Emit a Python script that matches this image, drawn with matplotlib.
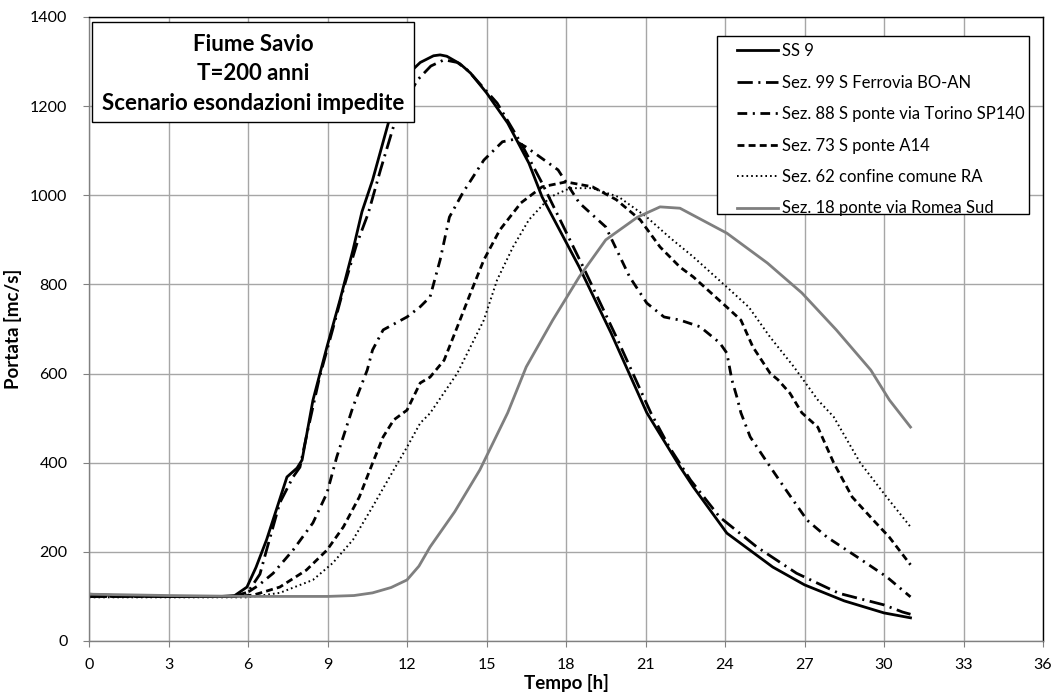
import matplotlib
matplotlib.use("Agg")
import matplotlib.pyplot as plt
from matplotlib.patches import Rectangle

plt.rcParams['font.family'] = ['Lato', 'DejaVu Sans']
plt.rcParams['lines.scale_dashes'] = False

# Idrogrammi di piena - Fiume Savio, T=200 anni
t_ss9 = [0, 1, 2, 3, 4, 5, 5.5, 5.96, 6.3, 6.7, 7.1, 7.47, 7.85, 8.04, 8.45, 8.98, 9.47, 9.96,
         10.3, 10.7, 11.36, 11.75, 12.2, 12.5, 13.0, 13.25, 13.5, 14.0, 14.4, 15.0, 15.8, 16.6,
         17.1, 18.5, 19.7, 21.05, 22.3, 22.8, 24.07, 25.8, 27.0, 28.5, 30.0, 31.0]
q_ss9 = [105, 102, 101, 100, 100, 100, 102, 121, 165, 227, 300, 368, 388, 406, 540, 660, 765, 877,
         963, 1034, 1176, 1232, 1281, 1298, 1313, 1315, 1312, 1295, 1274, 1230, 1162, 1072,
         996, 839, 691, 512, 391, 346, 242, 166, 126, 90, 63, 52]

t_ferrovia = [0, 3, 5.5, 6.0, 6.45, 6.7, 7.2, 7.7, 7.96, 8.2, 8.7, 9.2, 9.65, 10.1, 10.54, 11.0,
              11.6, 12.4, 12.9, 13.4, 13.9, 14.3, 15.4, 16.3, 17.1, 18.65, 19.9, 21.2, 21.9,
              22.7, 23.8, 25.2, 26.7, 28.3, 30.0, 30.7, 31.0]
q_ferrovia = [100, 100, 100, 110, 150, 204, 310, 368, 390, 458, 592, 700, 800, 890, 960, 1057,
              1176, 1259, 1290, 1304, 1298, 1280, 1207, 1117, 1027, 839, 682, 512, 435,
              361, 278, 211, 152, 107, 81, 65, 60]

t_torino = [0, 3, 5.5, 5.96, 6.4, 6.95, 7.7, 8.45, 8.98, 9.35, 9.96, 10.5, 10.7, 11.1, 12.0,
            12.5, 12.87, 13.25, 13.6, 14.1, 14.9, 15.6, 16.0, 16.5, 17.7, 18.5, 19.5, 20.4,
            21.05, 21.7, 22.3, 23.06, 23.8, 24.07, 24.26, 24.45, 24.6, 24.95, 25.6, 26.3,
            27.1, 27.85, 29.0, 30.1, 31.0]
q_torino = [100, 100, 100, 108, 125, 152, 204, 265, 332, 413, 525, 608, 653, 698, 727,
            750, 772, 855, 951, 1005, 1079, 1120, 1125, 1108, 1057, 983, 929, 817,
            758, 727, 720, 705, 669, 646, 586, 547, 512, 458, 400, 339,
            271, 233, 188, 144, 99]

t_a14 = [0, 3, 5.5, 6.2, 7.2, 8.2, 8.98, 9.6, 10.2, 10.7, 11.1, 11.5, 12.0, 12.5, 12.87, 13.4,
         13.9, 14.4, 14.9, 15.5, 16.3, 17.1, 18.0, 19.0, 19.9, 20.8, 21.55, 22.3, 22.8, 24.07,
         24.6, 25.05, 25.7, 26.0, 26.45, 26.9, 27.5, 28.1, 28.8, 29.6, 30.2, 31.0]
q_a14 = [100, 100, 100, 103, 121, 159, 204, 256, 323, 399, 458, 496, 518, 579, 592, 630,
         705, 781, 855, 922, 983, 1019, 1030, 1019, 990, 945, 884, 839, 817, 749,
         720, 660, 601, 586, 556, 512, 480, 400, 323, 271, 233, 171]

t_ra = [0, 3, 6, 7.2, 8.45, 9.2, 9.96, 10.7, 11.5, 12.0, 12.5, 12.87, 13.9, 14.9, 15.4, 16.0,
        16.6, 17.4, 18.15, 19.0, 20.0, 21.05, 21.9, 22.8, 24.07, 24.9, 25.7, 26.6, 27.5,
        28.1, 29.1, 30.1, 31.0]
q_ra = [98, 98, 98, 108, 137, 175, 227, 301, 384, 435, 489, 511, 601, 720, 810, 884,
        945, 996, 1016, 1016, 996, 951, 906, 862, 794, 749, 682, 615, 541,
        503, 400, 323, 256]

t_romea = [0, 3, 6, 9, 10.0, 10.7, 11.4, 12.0, 12.45, 12.87, 13.8, 14.75, 15.8, 16.5, 17.5,
           18.5, 19.5, 20.7, 21.55, 22.3, 24.07, 25.6, 26.9, 28.2, 29.5, 30.2, 31.0]
q_romea = [105, 102, 100, 100, 102, 108, 120, 137, 168, 211, 290, 384, 512, 615, 720,
           817, 900, 951, 974, 971, 915, 848, 781, 698, 608, 541, 480]

labels = ["SS 9",
          "Sez. 99 S Ferrovia BO-AN",
          "Sez. 88 S ponte via Torino SP140",
          "Sez. 73 S ponte A14",
          "Sez. 62 confine comune RA",
          "Sez. 18 ponte via Romea Sud"]

x_ticks = list(range(0, 37, 3))
y_ticks = list(range(0, 1401, 200))

W, H = 1056, 699
fig = plt.figure(figsize=(W / 100, H / 100), dpi=100)
ax = fig.add_axes([89 / W, 58 / H, 954 / W, 624 / H])

line_kw = dict(solid_joinstyle='round', dash_joinstyle='round')
ax.plot(t_ss9, q_ss9, color='black', lw=2.0, ls='-', label=labels[0], **line_kw)
ax.plot(t_ferrovia, q_ferrovia, color='black', lw=2.0, ls=(0, (11, 4, 1.5, 4)),
        label=labels[1], **line_kw)
ax.plot(t_torino, q_torino, color='black', lw=2.0, ls=(0, (7, 4, 1.5, 4)),
        label=labels[2], **line_kw)
ax.plot(t_a14, q_a14, color='black', lw=2.0, ls=(0, (5, 3)), label=labels[3], **line_kw)
ax.plot(t_ra, q_ra, color='black', lw=1.4, ls=(0, (1.2, 2.2)), label=labels[4], **line_kw)
ax.plot(t_romea, q_romea, color='#7f7f7f', lw=2.0, ls='-', label=labels[5], **line_kw)

ax.set_xlim(0, 36)
ax.set_ylim(0, 1400)
ax.set_xticks(x_ticks)
ax.set_yticks(y_ticks)
ax.grid(True, color='#a6a6a6', lw=1.0)
ax.set_axisbelow(True)
ax.tick_params(axis='both', direction='out', length=4.5, color='#808080', labelsize=11.5)
ax.tick_params(axis='y', pad=11)
ax.tick_params(axis='x', pad=8)

for side in ('left', 'bottom'):
    ax.spines[side].set_color('#808080')
    ax.spines[side].set_linewidth(1.0)
for side in ('top', 'right'):
    ax.spines[side].set_color('black')
    ax.spines[side].set_linewidth(1.0)

ax.set_xlabel("Tempo [h]", fontsize=13.5, fontweight='bold', labelpad=1)
ax.set_ylabel("Portata [mc/s]", fontsize=13.5, fontweight='bold', labelpad=6)

# legend box
ax.add_patch(Rectangle((717 / W, 1 - 214 / H), 312 / W, 178 / H, transform=fig.transFigure,
                       fc='white', ec='black', lw=1.0, zorder=4, clip_on=False))
leg = ax.legend(loc='upper left', bbox_to_anchor=(737 / W, 1 - 43 / H),
                bbox_transform=fig.transFigure, fontsize=12, frameon=False,
                handlelength=2.45, handletextpad=0.22, labelspacing=0.93, borderpad=0,
                borderaxespad=0)
leg.set_zorder(6)

# title box
ax.add_patch(Rectangle((92 / W, 1 - 122 / H), 322 / W, 100 / H, transform=fig.transFigure,
                       fc='white', ec='black', lw=1.0, zorder=4, clip_on=False))
ax.text(253 / W, 1 - 74 / H,
        "Fiume Savio\nT=200 anni\nScenario esondazioni impedite",
        transform=fig.transFigure, ha='center', va='center', fontsize=16,
        fontweight='bold', linespacing=1.5, zorder=6)

fig.savefig("out.png", dpi=100)
